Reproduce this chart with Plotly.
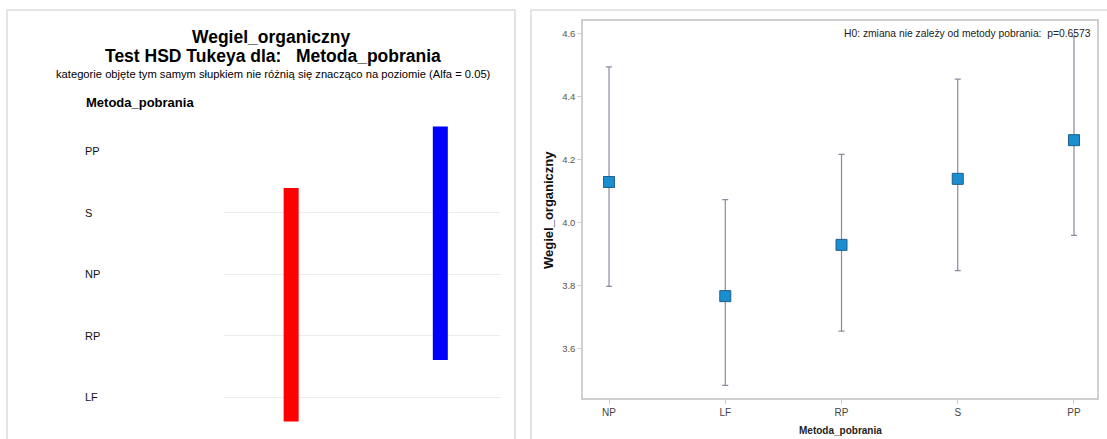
import plotly.graph_objects as go

W, H = 1107, 439
FONT = "Liberation Sans, Arial, sans-serif"

# ---- Tukey HSD grouping (left panel) ----
tukey_order = ["LF", "RP", "NP", "S", "PP"]          # bottom -> top
group_members = [["LF", "RP", "NP", "S"], ["RP", "NP", "S", "PP"]]
group_colors = ["#ff0000", "#0000ff"]

# ---- Means and confidence intervals (right panel) ----
methods = ["NP", "LF", "RP", "S", "PP"]
means = [4.129, 3.766, 3.929, 4.139, 4.262]
ci_low = [3.797, 3.482, 3.655, 3.847, 3.959]
ci_high = [4.495, 4.073, 4.217, 4.456, 4.591]
p_value = 0.6573


def px_x(p):
    return p / W


def px_y(p):
    return 1 - p / H


fig = go.Figure()

# grouping bars: one vertical bar per homogeneous group
for gi, (members, col) in enumerate(zip(group_members, group_colors)):
    idx = [tukey_order.index(m) for m in members]
    fig.add_trace(go.Scatter(
        x=[gi + 1, gi + 1], y=[min(idx) - 0.4, max(idx) + 0.4],
        mode="lines", line=dict(color=col, width=15),
        xaxis="x", yaxis="y", showlegend=False, hoverinfo="skip"))

# means with confidence-interval whiskers
fig.add_trace(go.Scatter(
    x=methods, y=means, mode="markers",
    marker=dict(symbol="square", size=11, color="#1a8fd0",
                line=dict(color="#1f5f8a", width=1)),
    error_y=dict(type="data", symmetric=False,
                 array=[h - m for h, m in zip(ci_high, means)],
                 arrayminus=[m - l for m, l in zip(means, ci_low)],
                 color="#8c8a9e", thickness=1.2, width=3),
    xaxis="x2", yaxis="y2", showlegend=False))

annotations = []
for i, name in enumerate(tukey_order):
    annotations.append(dict(
        text=name, x=px_x(83), xref="paper", xanchor="left",
        y=i, yref="y", yanchor="middle", showarrow=False,
        font=dict(family=FONT, size=11, color="#111")))

annotations += [
    dict(text="<b>Wegiel_organiczny</b>", x=px_x(271), y=px_y(37),
         font=dict(family=FONT, size=17.5, color="#000")),
    dict(text="<b>Test HSD Tukeya dla:   Metoda_pobrania</b>", x=px_x(273), y=px_y(56),
         font=dict(family=FONT, size=17.5, color="#000")),
    dict(text="kategorie objęte tym samym słupkiem nie różnią się znacząco na poziomie (Alfa = 0.05)",
         x=px_x(273), y=px_y(74), font=dict(family=FONT, size=11.2, color="#000")),
    dict(text="<b>Metoda_pobrania</b>", x=px_x(84), y=px_y(102), xanchor="left",
         font=dict(family=FONT, size=13, color="#000")),
    dict(text=f"H0: zmiana nie zależy od metody pobrania:  p={p_value}",
         x=px_x(1093), y=px_y(33), xanchor="right",
         font=dict(family=FONT, size=10.3, color="#222")),
    dict(text="<b>Wegiel_organiczny</b>", x=px_x(549), y=px_y(210), textangle=-90,
         font=dict(family=FONT, size=13, color="#111")),
    dict(text="<b>Metoda_pobrania</b>", x=px_x(840), y=px_y(430),
         font=dict(family=FONT, size=10, color="#222")),
]
for a in annotations:
    if a.get("yref") != "y":
        a.setdefault("xref", "paper")
        a.setdefault("yref", "paper")
        a.setdefault("xanchor", "center")
        a.setdefault("yanchor", "middle")
        a["showarrow"] = False

shapes = [
    dict(type="rect", xref="paper", yref="paper",
         x0=px_x(7), x1=px_x(515), y0=px_y(445), y1=px_y(10),
         line=dict(color="#dcdcdc", width=1.5)),
    dict(type="rect", xref="paper", yref="paper",
         x0=px_x(531), x1=px_x(1112), y0=px_y(445), y1=px_y(10),
         line=dict(color="#dcdcdc", width=1.5)),
]

fig.update_layout(
    width=W, height=H, margin=dict(l=0, r=0, t=0, b=0),
    paper_bgcolor="white", plot_bgcolor="white",
    font=dict(family=FONT),
    annotations=annotations, shapes=shapes,
    xaxis=dict(domain=[px_x(224), px_x(500)], range=[0.55, 2.40],
               visible=False, fixedrange=True),
    # grid rules under every category except the top one
    yaxis=dict(domain=[px_y(435), px_y(110)], range=[-0.618, 4.667],
               tickvals=list(range(len(tukey_order) - 1)), showticklabels=False,
               showgrid=True, gridcolor="#eaeaf0", gridwidth=1,
               zeroline=False, showline=False, ticks=""),
    xaxis2=dict(domain=[px_x(583), px_x(1097)], range=[-0.224, 4.198],
                type="category", categoryorder="array", categoryarray=methods,
                showline=True, mirror=True, linecolor="#cfcfcf", linewidth=1.5,
                ticks="outside", ticklen=4, tickcolor="#cfcfcf",
                tickfont=dict(family=FONT, size=10, color="#444"),
                showgrid=False, zeroline=False, anchor="y2"),
    yaxis2=dict(domain=[px_y(398), px_y(21)], range=[3.442, 4.641],
                dtick=0.2, tick0=3.6, tickformat=".1f",
                showline=True, mirror=True, linecolor="#cfcfcf", linewidth=1.5,
                ticks="outside", ticklen=4, tickcolor="#cfcfcf",
                tickfont=dict(family=FONT, size=9.5, color="#555"),
                showgrid=False, zeroline=False, anchor="x2"),
)

fig.write_html("out.html")
